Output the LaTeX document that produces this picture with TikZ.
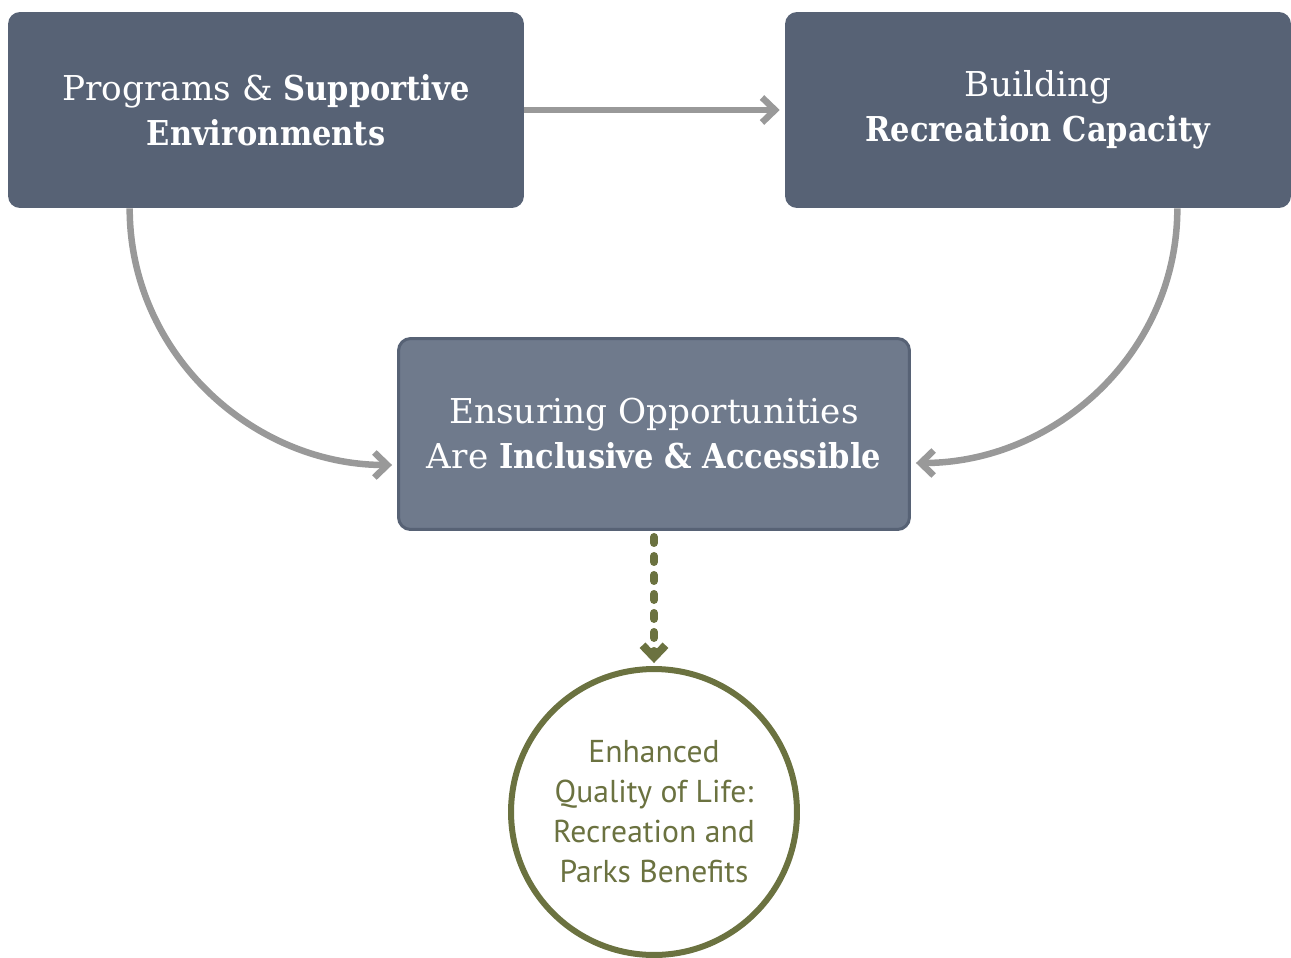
\documentclass[tikz,border=0pt]{standalone}
\usepackage{fontspec}
\setmainfont{DejaVu Serif}[BoldFeatures={FakeStretch=0.89}]
\setsansfont{PT Sans}
\usetikzlibrary{arrows.meta}
\definecolor{slatedark}{HTML}{576275}
\definecolor{slatelight}{HTML}{6F7A8C}
\definecolor{linkgray}{HTML}{999999}
\definecolor{olivegreen}{HTML}{6B7240}
\begin{document}
\begin{tikzpicture}[x=0.02cm, y=-0.02cm,
    box/.style={rounded corners=0.24cm, fill=slatedark, text=white, align=center, inner sep=0pt, font=\fontsize{19.5}{25.6}\selectfont},
    link/.style={draw=linkgray, line width=0.13cm, -{Straight Barb[length=0.26cm,width=0.5cm]}},
    goal/.style={circle, draw=olivegreen, line width=0.12cm, fill=white, text=olivegreen, align=center, font=\sffamily\fontsize{18}{22.8}\selectfont}]
    \useasboundingbox (0,0) rectangle (1291,957);
    \node[box, minimum width=10.32cm, minimum height=3.92cm] (prog) at (266,110) {Programs \& \textbf{Supportive}\\\textbf{Environments}};
    \node[box, minimum width=10.12cm, minimum height=3.92cm] (build) at (1038,110) {Building\\\textbf{Recreation Capacity}};
    \node[box, fill=slatelight, draw=slatedark, line width=0.06cm, minimum width=10.22cm, minimum height=3.82cm] (ens) at (654,434) {Ensuring Opportunities\\Are \textbf{Inclusive \& Accessible}};
    \node[goal, minimum size=5.72cm] (life) at (654,812) {Enhanced\\Quality of Life:\\Recreation and\\Parks Benefits};
    % links between the boxes
    \draw[link, shorten >=0.1cm] (prog.east) -- (build.west);
    \draw[link, shorten >=0.1cm] ([xshift=2.44cm]prog.south west) to[out=-90, in=180] ([yshift=-0.62cm]ens.west);
    \draw[link, shorten >=0.1cm] ([xshift=-2.28cm]build.south east) to[out=-90, in=0] ([yshift=-0.58cm]ens.east);
    \draw[draw=olivegreen, line width=0.16cm, line cap=round, dash pattern=on 0.12cm off 0.26cm, -{Straight Barb[length=0.24cm,width=0.46cm]}, shorten <=0.12cm, shorten >=0.06cm] (ens.south) -- (life.north);
\end{tikzpicture}
\end{document}
